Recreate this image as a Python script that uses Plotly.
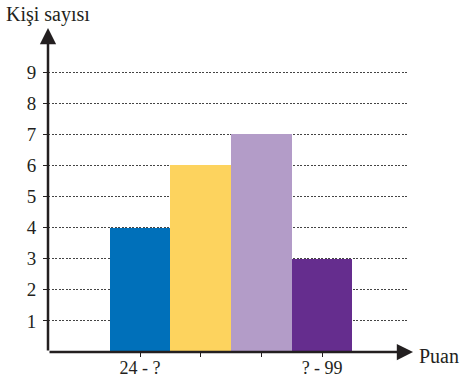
import plotly.graph_objects as go

categories = [0, 1, 2, 3]
values = [4, 6, 7, 3]
colors = ["#0070BA", "#FDD35E", "#B39CC8", "#652D8E"]
x_ticktext = ["24 - ?", "", "", "? - 99"]
y_ticks = [1, 2, 3, 4, 5, 6, 7, 8, 9]

FONT = "Liberation Serif"
INK = "#231F20"

fig = go.Figure(go.Bar(x=categories, y=values, width=1,
                       marker=dict(color=colors, line=dict(width=0))))

xmin, xmax = -1.516, 4.415
ymax = 10.42

fig.update_layout(
    width=464, height=381,
    margin=dict(l=48, r=56, t=28, b=29, autoexpand=False),
    paper_bgcolor="white", plot_bgcolor="white",
    showlegend=False, bargap=0,
    font=dict(family=FONT, size=19, color=INK),
    xaxis=dict(range=[xmin, xmax], tickvals=categories, ticktext=x_ticktext,
               ticks="outside", ticklen=4, tickcolor=INK, showgrid=False,
               showline=False, zeroline=False, automargin=False,
               tickfont=dict(size=18, family=FONT, color=INK), ticklabelstandoff=-5),
    yaxis=dict(range=[0, ymax], tickvals=y_ticks, ticks="outside", ticklen=4,
               tickcolor=INK, showgrid=True, gridcolor="#444", gridwidth=1,
               griddash="2px,1.5px", showline=False, zeroline=False, automargin=False,
               tickfont=dict(size=19, family=FONT, color=INK), ticklabelstandoff=3),
)

# axes with arrows
fig.add_annotation(x=xmin, y=ymax, ax=xmin, ay=0, xref="x", yref="y",
                   axref="x", ayref="y", showarrow=True, arrowhead=2,
                   arrowsize=1.3, arrowwidth=2.5, arrowcolor=INK, text="", standoff=0)
fig.add_annotation(x=4.498, y=0, ax=xmin, ay=0, xref="x", yref="y",
                   axref="x", ayref="y", showarrow=True, arrowhead=2,
                   arrowsize=1.3, arrowwidth=2.5, arrowcolor=INK, text="", standoff=0)

fig.add_annotation(text="Kişi sayısı", x=-0.122, y=1.042, xref="paper", yref="paper",
                   xanchor="left", yanchor="middle", showarrow=False,
                   font=dict(size=20, family=FONT, color=INK))
fig.add_annotation(text="Puan", x=1.025, y=-0.012, xref="paper", yref="paper",
                   xanchor="left", yanchor="middle", showarrow=False,
                   font=dict(size=20, family=FONT, color=INK))

fig.write_html("out.html", config={"displayModeBar": False},
               post_script="document.body.style.margin='0';document.body.style.padding='0';")
